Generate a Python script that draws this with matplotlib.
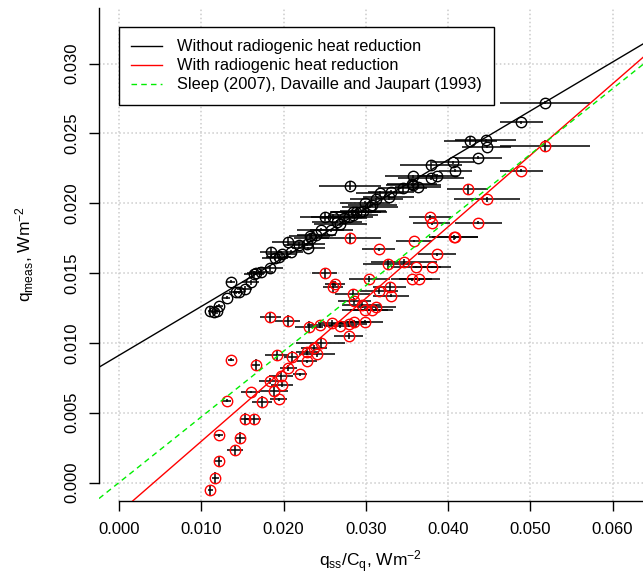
import matplotlib
matplotlib.use('Agg')
import matplotlib.pyplot as plt
from matplotlib.ticker import FixedLocator, StrMethodFormatter
from matplotlib.lines import Line2D

plt.rcParams['font.family'] = ['Liberation Sans', 'DejaVu Sans']
plt.rcParams['mathtext.fontset'] = 'custom'
plt.rcParams['mathtext.rm'] = 'Liberation Sans'
plt.rcParams['mathtext.it'] = 'Liberation Sans:italic'

# ---- data: without radiogenic heat reduction (black) ----
bx = [0.0111, 0.0115, 0.0119, 0.0122, 0.0131, 0.0136, 0.0142, 0.0146, 0.0153, 0.0160,
      0.0164, 0.0167, 0.0173, 0.0184, 0.0185, 0.0190, 0.0194, 0.0198, 0.0206, 0.0209,
      0.0219, 0.0228, 0.0230, 0.0232, 0.0234, 0.0240, 0.0245, 0.0250, 0.0258, 0.0260,
      0.0265, 0.0269, 0.0273, 0.0279, 0.0281, 0.0285, 0.0285, 0.0288, 0.0293, 0.0297,
      0.0299, 0.0305, 0.0308, 0.0313, 0.0317, 0.0328, 0.0331, 0.0345, 0.0356, 0.0358,
      0.0358, 0.0363, 0.0379, 0.0379, 0.0387, 0.0406, 0.0409, 0.0427, 0.0437, 0.0446,
      0.0447, 0.0489, 0.0518]
by = [0.01229, 0.01222, 0.01229, 0.01265, 0.01325, 0.01437, 0.01361, 0.01361, 0.01385, 0.01433,
      0.01492, 0.01501, 0.01509, 0.01533, 0.01648, 0.01605, 0.01616, 0.01635, 0.01724, 0.01652,
      0.01700, 0.01707, 0.01676, 0.01764, 0.01748, 0.01771, 0.01810, 0.01903, 0.01807, 0.01903,
      0.01867, 0.01850, 0.01891, 0.01903, 0.02125, 0.01915, 0.01938, 0.01938, 0.01938, 0.01946,
      0.02003, 0.01974, 0.01986, 0.02027, 0.02070, 0.02046, 0.02082, 0.02108, 0.02135, 0.02130,
      0.02194, 0.02118, 0.02178, 0.02273, 0.02196, 0.02292, 0.02232, 0.02445, 0.02325, 0.02452,
      0.02404, 0.02579, 0.02719]
bxerr = [0.0003, 0.0003, 0.0003, 0.0004, 0.0004, 0.0005, 0.0008, 0.0007, 0.0009, 0.0010,
         0.0012, 0.0011, 0.0014, 0.0015, 0.0013, 0.0016, 0.0015, 0.0018, 0.0020, 0.0015,
         0.0018, 0.0022, 0.0020, 0.0025, 0.0021, 0.0024, 0.0028, 0.0030, 0.0026, 0.0027,
         0.0030, 0.0032, 0.0028, 0.0030, 0.0038, 0.0030, 0.0027, 0.0031, 0.0033, 0.0028,
         0.0030, 0.0034, 0.0030, 0.0032, 0.0029, 0.0031, 0.0028, 0.0030, 0.0030, 0.0033,
         0.0035, 0.0028, 0.0040, 0.0038, 0.0025, 0.0025, 0.0020, 0.0032, 0.0028, 0.0037,
         0.0030, 0.0026, 0.0055]
byerr = [0.0003, 0.0002, 0.0002, 0.0001, 0.0001, 0.0001, 0.0001, 0.0001, 0.0002, 0.0002,
         0.0002, 0.0001, 0.0002, 0.0002, 0.0003, 0.0001, 0.0002, 0.0001, 0.0003, 0.0001,
         0.0002, 0.0001, 0.0001, 0.0002, 0.0002, 0.0001, 0.0001, 0.0003, 0.0001, 0.0002,
         0.0001, 0.0001, 0.0002, 0.0001, 0.0003, 0.0001, 0.0001, 0.0002, 0.0001, 0.0001,
         0.0001, 0.0001, 0.0001, 0.0001, 0.0002, 0.0002, 0.0001, 0.0003, 0.0001, 0.0002,
         0.0001, 0.0001, 0.0001, 0.0003, 0.0001, 0.0001, 0.0001, 0.0003, 0.0001, 0.0001,
         0.0001, 0.0001, 0.0001]

# ---- data: with radiogenic heat reduction (red) ----
rx = [0.0111, 0.0117, 0.0121, 0.0122, 0.0131, 0.0136, 0.0141, 0.0147, 0.0153, 0.0160,
      0.0164, 0.0166, 0.0174, 0.0184, 0.0184, 0.0188, 0.0192, 0.0194, 0.0197, 0.0198,
      0.0205, 0.0206, 0.0210, 0.0220, 0.0229, 0.0229, 0.0231, 0.0237, 0.0241, 0.0244,
      0.0245, 0.0250, 0.0259, 0.0260, 0.0263, 0.0269, 0.0279, 0.0280, 0.0281, 0.0284,
      0.0286, 0.0286, 0.0295, 0.0299, 0.0299, 0.0304, 0.0307, 0.0313, 0.0316, 0.0316,
      0.0327, 0.0329, 0.0331, 0.0346, 0.0356, 0.0359, 0.0361, 0.0365, 0.0378, 0.0380,
      0.0380, 0.0387, 0.0407, 0.0409, 0.0424, 0.0437, 0.0447, 0.0489, 0.0518]
ry = [-0.00055, 0.00033, 0.00153, 0.00339, 0.00585, 0.00881, 0.00231, 0.00320, 0.00458, 0.00649,
      0.00453, 0.00845, 0.00577, 0.01182, 0.00726, 0.00654, 0.00912, 0.00597, 0.00761, 0.00702,
      0.01158, 0.00821, 0.00900, 0.00774, 0.00936, 0.00869, 0.01115, 0.00964, 0.00917, 0.01127,
      0.01000, 0.01497, 0.01143, 0.01401, 0.01425, 0.01120, 0.01050, 0.01134, 0.01748, 0.01349,
      0.01153, 0.01301, 0.01270, 0.01239, 0.01153, 0.01456, 0.01239, 0.01254, 0.01669, 0.01373,
      0.01562, 0.01397, 0.01337, 0.01578, 0.01454, 0.01729, 0.01544, 0.01454, 0.01898, 0.01855,
      0.01544, 0.01635, 0.01755, 0.01755, 0.02099, 0.01860, 0.02027, 0.02232, 0.02411]
rxerr = [0.0003, 0.0004, 0.0004, 0.0005, 0.0005, 0.0004, 0.0010, 0.0006, 0.0005, 0.0012,
         0.0009, 0.0006, 0.0012, 0.0013, 0.0014, 0.0017, 0.0015, 0.0010, 0.0015, 0.0013,
         0.0015, 0.0010, 0.0009, 0.0009, 0.0014, 0.0012, 0.0017, 0.0016, 0.0022, 0.0015,
         0.0030, 0.0015, 0.0017, 0.0012, 0.0012, 0.0020, 0.0018, 0.0022, 0.0038, 0.0021,
         0.0020, 0.0020, 0.0024, 0.0028, 0.0022, 0.0025, 0.0026, 0.0024, 0.0020, 0.0023,
         0.0030, 0.0020, 0.0022, 0.0040, 0.0025, 0.0022, 0.0030, 0.0025, 0.0025, 0.0022,
         0.0023, 0.0023, 0.0030, 0.0028, 0.0025, 0.0028, 0.0040, 0.0026, 0.0055]
ryerr = [0.0004, 0.0004, 0.0004, 0.0001, 0.0001, 0.0001, 0.0004, 0.0004, 0.0004, 0.0001,
         0.0004, 0.0004, 0.0004, 0.0004, 0.0002, 0.0004, 0.0004, 0.0001, 0.0004, 0.0002,
         0.0004, 0.0002, 0.0004, 0.0001, 0.0002, 0.0001, 0.0004, 0.0002, 0.0002, 0.0002,
         0.0004, 0.0004, 0.0002, 0.0004, 0.0002, 0.0001, 0.0002, 0.0002, 0.0004, 0.0003,
         0.0001, 0.0002, 0.0002, 0.0001, 0.0001, 0.0002, 0.0001, 0.0002, 0.0001, 0.0002,
         0.0003, 0.0003, 0.0001, 0.0002, 0.0001, 0.0001, 0.0001, 0.0001, 0.0002, 0.0001,
         0.0001, 0.0001, 0.0002, 0.0001, 0.0004, 0.0001, 0.0002, 0.0001, 0.0004]

# ---- fitted / reference lines (intercept, slope) ----
black_fit = (0.00911, 0.350)
red_fit = (-0.00217, 0.512)
sleep_fit = (0.0, 0.47)

xticks = [0.000, 0.010, 0.020, 0.030, 0.040, 0.050, 0.060]
yticks = [0.000, 0.005, 0.010, 0.015, 0.020, 0.025, 0.030]
legend_labels = ["Without radiogenic heat reduction",
                 "With radiogenic heat reduction",
                 "Sleep (2007), Davaille and Jaupart (1993)"]

fig = plt.figure(figsize=(6.43, 5.78), dpi=100)
ax = fig.add_axes([99 / 643, 77 / 578, 544 / 643, 493 / 578])
xmin, xmax = -0.00243, 0.0637
ymin, ymax = -0.00132, 0.03398
ax.set_xlim(xmin, xmax)
ax.set_ylim(ymin, ymax)

ax.grid(True, color='#CCCCCC', linestyle=':', linewidth=1.1, zorder=0)
ax.set_axisbelow(True)

ax.errorbar(bx, by, xerr=bxerr, yerr=byerr, fmt='none', ecolor='black',
            elinewidth=1.1, capsize=0, zorder=2)
ax.errorbar(rx, ry, xerr=rxerr, yerr=ryerr, fmt='none', ecolor='black',
            elinewidth=1.1, capsize=0, zorder=2)
ax.plot(bx, by, 'o', mfc='none', mec='black', ms=7.5, mew=1.0, zorder=3)
ax.plot(rx, ry, 'o', mfc='none', mec='red', ms=7.5, mew=1.0, zorder=3)

ax.axline((0, black_fit[0]), slope=black_fit[1], color='black', lw=1.0, zorder=4)
ax.axline((0, red_fit[0]), slope=red_fit[1], color='red', lw=1.0, zorder=4)
ax.axline((0, sleep_fit[0]), slope=sleep_fit[1], color='#00EE00', lw=1.0,
          linestyle=(0, (4, 3)), zorder=4)

for s in ['top', 'right']:
    ax.spines[s].set_visible(False)
ax.spines['left'].set_bounds(0.0, ymax)
ax.spines['bottom'].set_bounds(0.0, xmax)
ax.spines['left'].set_linewidth(1.0)
ax.spines['bottom'].set_linewidth(1.0)

ax.xaxis.set_major_locator(FixedLocator(xticks))
ax.yaxis.set_major_locator(FixedLocator(yticks))
ax.xaxis.set_major_formatter(StrMethodFormatter('{x:.3f}'))
ax.yaxis.set_major_formatter(StrMethodFormatter('{x:.3f}'))
ax.tick_params(axis='both', direction='out', length=7, width=1.0, labelsize=12)
ax.tick_params(axis='x', pad=8)
ax.tick_params(axis='y', pad=7)
for lab in ax.get_yticklabels():
    lab.set_rotation(90)
    lab.set_va('center')
    lab.set_ha('right')

ax.set_xlabel(r'$\mathrm{q_{ss}/C_q}$, Wm$^{-2}$', fontsize=12.5)
ax.xaxis.set_label_coords(0.5, (501 - 562) / 493)
ax.xaxis.label.set_va('center')
ax.set_ylabel(r'$\mathrm{q_{meas}}$, Wm$^{-2}$', fontsize=12.5)
ax.yaxis.set_label_coords((25 - 99) / 544, 0.5)
ax.yaxis.label.set_va('center')

handles = [Line2D([], [], color='black', lw=1.0),
           Line2D([], [], color='red', lw=1.0),
           Line2D([], [], color='#00EE00', lw=1.0, linestyle=(0, (4, 3)))]
leg = ax.legend(handles, legend_labels, loc='upper left',
                bbox_to_anchor=((119 - 99) / 544, 1 - (27 - 8) / 493),
                borderaxespad=0, fontsize=11.8, frameon=True, fancybox=False,
                edgecolor='black', framealpha=1, handlelength=1.9,
                handletextpad=0.9, borderpad=0.75, labelspacing=0.25)
leg.get_frame().set_linewidth(1.0)

fig.savefig('out.png', dpi=100)
